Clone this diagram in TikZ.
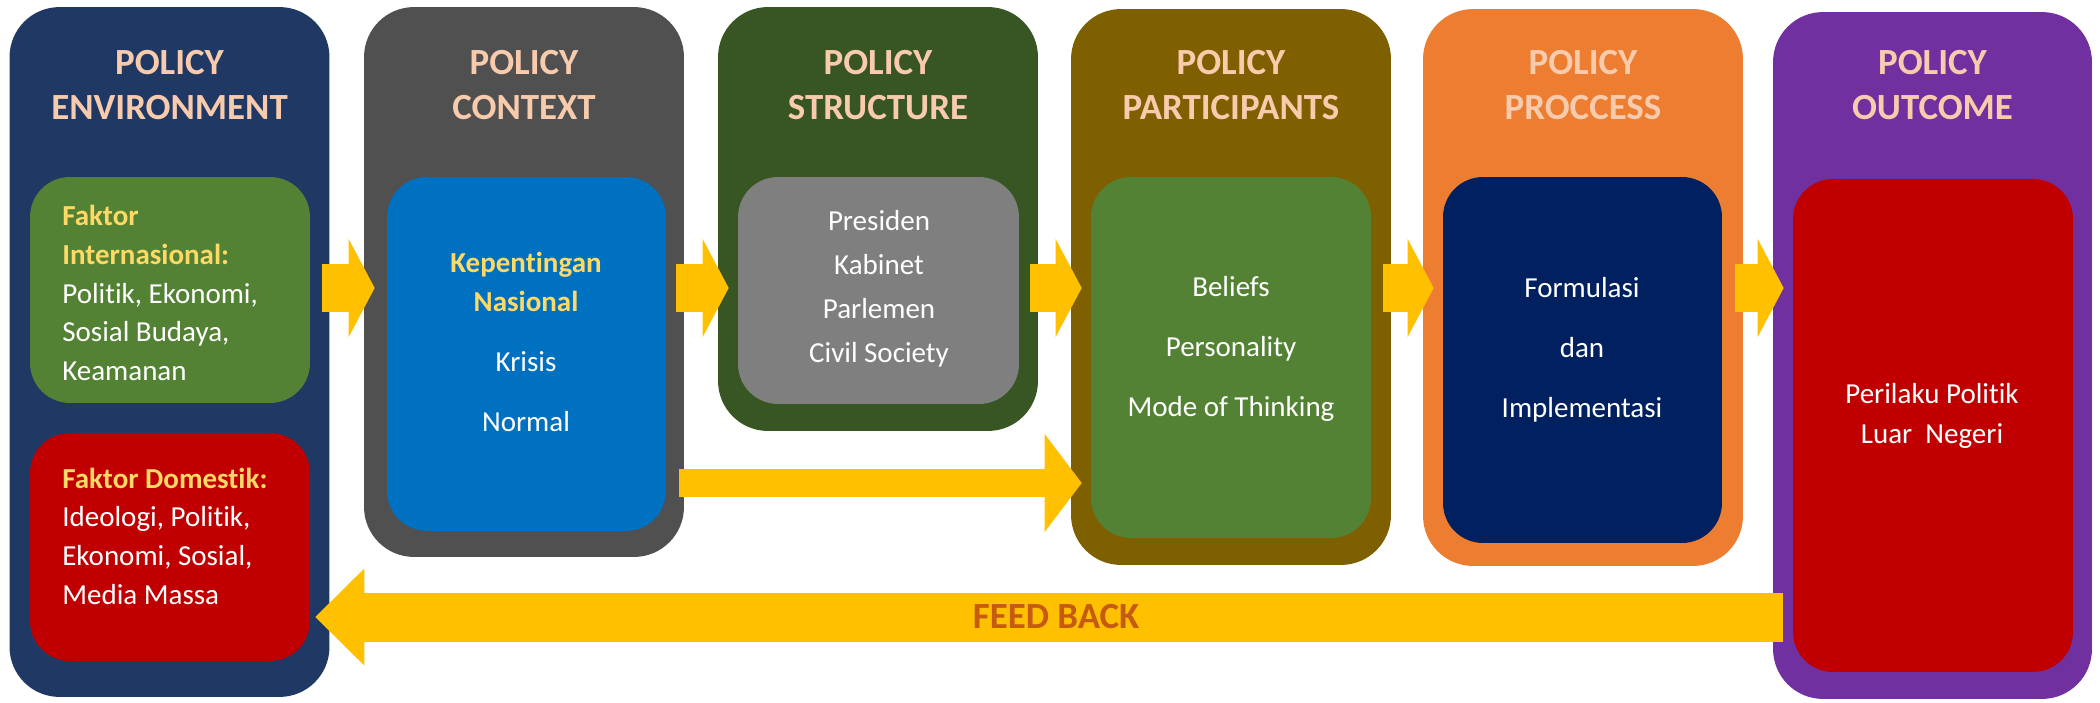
\documentclass[tikz,border=0pt]{standalone}
\usepackage{fontspec}
\setmainfont{Carlito}[Ligatures=NoCommon]
\usetikzlibrary{arrows.meta, positioning}
\definecolor{envblue}{RGB}{32, 56, 100}
\definecolor{ctxgray}{RGB}{80, 80, 80}
\definecolor{strgreen}{RGB}{55, 86, 35}
\definecolor{partolive}{RGB}{127, 96, 0}
\definecolor{procorange}{RGB}{237, 125, 49}
\definecolor{outpurple}{RGB}{112, 48, 160}
\definecolor{leafgreen}{RGB}{84, 130, 53}
\definecolor{domred}{RGB}{192, 0, 0}
\definecolor{natblue}{RGB}{0, 112, 192}
\definecolor{midgray}{RGB}{127, 127, 127}
\definecolor{deepnavy}{RGB}{0, 32, 96}
\definecolor{peach}{RGB}{248, 203, 173}
\definecolor{goldtext}{RGB}{255, 217, 102}
\definecolor{arrowgold}{RGB}{255, 192, 0}
\definecolor{fbbrown}{RGB}{197, 90, 17}
\newcommand{\gold}[1]{\textcolor{goldtext}{\textbf{#1}}}

\begin{document}
\begin{tikzpicture}[
  x=0.02cm, y=-0.02cm,
  panel/.style={rounded corners=1cm, inner sep=0pt, minimum width=6.4cm},
  inbox/.style={rounded corners=0.8cm, inner sep=0pt, minimum width=5.6cm},
  headtext/.style={font=\fontsize{21}{25.6}\selectfont\bfseries, text=peach, align=center, inner sep=0pt},
  bodytext/.style={font=\fontsize{16.5}{22}\selectfont, text=white, align=center, inner sep=0pt},
  fatarrow/.style={draw=arrowgold, line width=0.98cm, -{Triangle[width=1.96cm, length=0.52cm, line width=0pt]}, shorten <=-0.16cm, shorten >=-0.22cm}
]
  \useasboundingbox (0,0) rectangle (2100,703);

  % Policy environment
  \node[panel, fill=envblue, minimum height=13.8cm] (env) at (169.5,352) {};
  \node[headtext] (envtitle) at (env.north |- 0,85) {POLICY\\ENVIRONMENT};
  \node[inbox, fill=leafgreen, minimum height=4.52cm] (faktorint) at (170,290) {};
  \node[bodytext, align=left, anchor=west] (inttext) at (62,293) {\gold{Faktor}\\\gold{Internasional:}\\Politik, Ekonomi,\\Sosial Budaya,\\Keamanan};
  \node[inbox, fill=domred, minimum height=4.56cm] (faktordom) at (170,547) {};
  \node[bodytext, align=left, anchor=west] (domtext) at (62,536) {\gold{Faktor Domestik:}\\Ideologi, Politik,\\Ekonomi, Sosial,\\Media Massa};

  % Policy context
  \node[panel, fill=ctxgray, minimum height=11cm] (context) at (524,282) {};
  \node[headtext] (ctxtitle) at (context.north |- 0,85) {POLICY\\CONTEXT};
  \node[inbox, fill=natblue, minimum width=5.58cm, minimum height=7.08cm] (kepentingan) at (526.5,354) {};
  \node[bodytext] (keptext) at (526,342) {\gold{Kepentingan}\\\gold{Nasional}\\[0.43cm]Krisis\\[0.43cm]Normal};

  % Policy structure
  \node[panel, fill=strgreen, minimum height=8.48cm] (structure) at (878,219) {};
  \node[headtext] (strtitle) at (structure.north |- 0,85) {POLICY\\STRUCTURE};
  \node[inbox, fill=midgray, minimum width=5.62cm, minimum height=4.54cm] (lembaga) at (878.5,290.5) {};
  \node[bodytext] (lemtext) at (879,289) {Presiden\\[0.11cm]Kabinet\\[0.11cm]Parlemen\\[0.11cm]Civil Society};

  % Policy participants
  \node[panel, fill=partolive, minimum height=11.12cm] (participants) at (1231,287) {};
  \node[headtext] (parttitle) at (participants.north |- 0,85) {POLICY\\PARTICIPANTS};
  \node[inbox, fill=leafgreen, minimum height=7.22cm] (individu) at (1231,357.5) {};
  \node[bodytext] (indtext) at (1231,349) {Beliefs\\[0.43cm]Personality\\[0.43cm]Mode of Thinking};

  % Policy process
  \node[panel, fill=procorange, minimum height=11.14cm] (process) at (1583,287.5) {};
  \node[headtext] (proctitle) at (process.north |- 0,85) {POLICY\\PROCCESS};
  \node[inbox, fill=deepnavy, minimum width=5.58cm, minimum height=7.32cm] (formulasi) at (1582.5,360) {};
  \node[bodytext] (formtext) at (1582,350) {Formulasi\\[0.43cm]dan\\[0.43cm]Implementasi};

  % Policy outcome
  \node[panel, fill=outpurple, minimum width=6.38cm, minimum height=13.74cm] (outcome) at (1932.5,355.5) {};
  \node[headtext] (outtitle) at (outcome.north |- 0,85) {POLICY\\OUTCOME};
  \node[inbox, fill=domred, minimum height=9.86cm] (perilaku) at (1933,425.5) {};
  \node[bodytext] (periltext) at (1932,416) {Perilaku Politik\\[0.03cm]Luar~~Negeri};

  % Flow arrows
  \coordinate (flow) at (0,288);
  \draw[fatarrow] (env.east |- flow) -- (context.west |- flow);
  \draw[fatarrow] (context.east |- flow) -- (structure.west |- flow);
  \draw[fatarrow] (structure.east |- flow) -- (participants.west |- flow);
  \draw[fatarrow] (participants.east |- flow) -- (process.west |- flow);
  \draw[fatarrow] (process.east |- flow) -- (outcome.west |- flow);

  % Context straight to participants
  \coordinate (cross) at (0,483);
  \draw[fatarrow, line width=0.56cm, -{Triangle[width=1.96cm, length=0.74cm, line width=0pt]}, shorten <=-0.1cm] (context.east |- cross) -- (participants.west |- cross);

  % Feed back
  \coordinate (back) at (0,617);
  \draw[fatarrow, -{Triangle[width=1.94cm, length=0.98cm, line width=0pt]}, shorten <=-0.2cm, shorten >=0.1cm] (outcome.west |- back) -- (faktordom.east |- back)
    node[pos=0.49, font=\fontsize{21}{25}\selectfont\bfseries, text=fbbrown] (fblabel) {FEED BACK};
\end{tikzpicture}
\end{document}
